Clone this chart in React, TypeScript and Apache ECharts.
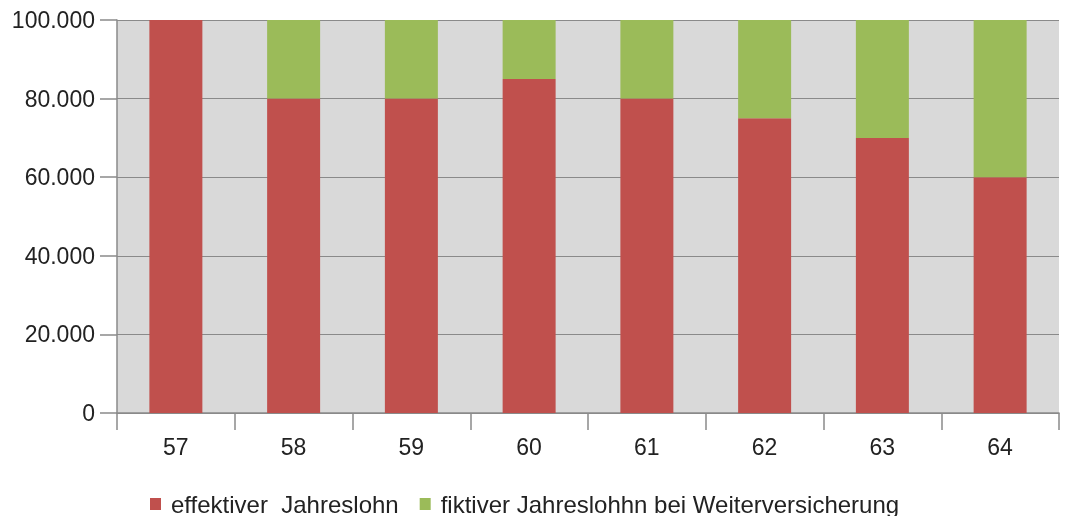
import React, { useEffect, useRef } from "react";
import * as echarts from "echarts";

const categories = ["57", "58", "59", "60", "61", "62", "63", "64"];
const effektiv = [100000, 80000, 80000, 85000, 80000, 75000, 70000, 60000];
const fiktiv = [0, 20000, 20000, 15000, 20000, 25000, 30000, 40000];
const seriesNames = ["effektiver  Jahreslohn", "fiktiver Jahreslohhn bei Weiterversicherung"];

const fmt = (v: number) => String(v).replace(/\B(?=(\d{3})+(?!\d))/g, ".");

export default function App() {
  const ref = useRef<HTMLDivElement>(null);
  useEffect(() => {
    if (!ref.current) return;
    const chart = echarts.init(ref.current, undefined, { renderer: "svg" });
    const font = "'Liberation Sans', Arial, sans-serif";
    chart.setOption({
      animation: false,
      textStyle: { fontFamily: font },
      grid: {
        left: 117,
        right: 10,
        top: 20,
        bottom: 103,
        show: true,
        backgroundColor: "#d9d9d9",
        borderWidth: 0,
      },
      legend: {
        left: 150,
        top: 492,
        padding: 0,
        icon: "rect",
        itemWidth: 11,
        itemHeight: 12,
        itemGap: 21,
        textStyle: { fontSize: 24, lineHeight: 22, color: "#222", fontFamily: font, padding: [0, 0, 0, 5] },
        data: seriesNames,
      },
      xAxis: {
        type: "category",
        data: categories,
        axisLine: { lineStyle: { color: "#8a8a8a", width: 1.5 } },
        axisTick: { show: true, length: 17, inside: false, lineStyle: { color: "#8a8a8a", width: 1.5 } },
        axisLabel: { fontSize: 23, color: "#222", margin: 22, fontFamily: font },
      },
      yAxis: {
        type: "value",
        min: 0,
        max: 100000,
        interval: 20000,
        axisLine: { show: true, lineStyle: { color: "#8a8a8a", width: 1.5 } },
        axisTick: { show: true, length: 17, lineStyle: { color: "#8a8a8a", width: 1.5 } },
        splitLine: { lineStyle: { color: "#8a8a8a", width: 1.2 } },
        axisLabel: { fontSize: 23, color: "#222", margin: 22, formatter: (v: number) => fmt(v), fontFamily: font },
      },
      series: [
        {
          name: seriesNames[0],
          type: "bar",
          stack: "a",
          data: effektiv,
          barWidth: "45%",
          itemStyle: { color: "#c0504d" },
        },
        {
          name: seriesNames[1],
          type: "bar",
          stack: "a",
          data: fiktiv,
          barWidth: "45%",
          itemStyle: { color: "#9bbb59" },
        },
      ],
    });
    return () => chart.dispose();
  }, []);
  return <div ref={ref} style={{ position: "fixed", left: 0, top: 0, width: 1069, height: 516 }} />;
}
